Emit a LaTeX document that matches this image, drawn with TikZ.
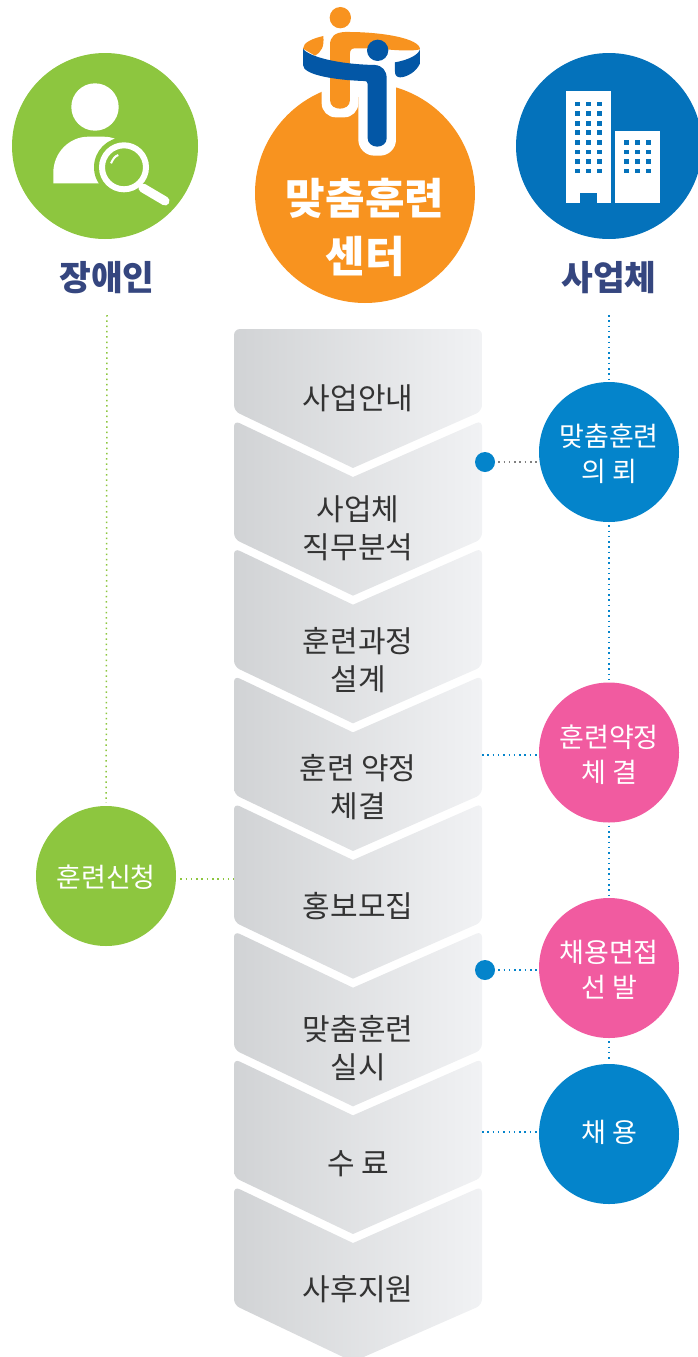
\documentclass[tikz,border=0pt]{standalone}
\usepackage{fontspec}
\setmainfont{Noto Sans CJK KR}
\usetikzlibrary{math}
\definecolor{seekergreen}{HTML}{8DC63F}
\definecolor{firmblue}{HTML}{0472BB}
\definecolor{roundblue}{HTML}{0484CB}
\definecolor{roundpink}{HTML}{F15BA0}
\definecolor{centerorange}{HTML}{F8931F}
\definecolor{logoblue}{HTML}{0357A6}
\definecolor{headnavy}{HTML}{35467F}
\definecolor{chevronleft}{HTML}{D1D3D5}
\definecolor{chevronright}{HTML}{F1F2F4}
\tikzset{
  bigcircle/.style={circle, inner sep=0pt, minimum size=186pt},
  roundnode/.style={circle, inner sep=0pt, minimum size=140pt},
  roundlabel/.style={text=white, align=center, font=\fontsize{27}{35}\selectfont},
  headlabel/.style={text=headnavy, font=\fontsize{34.5}{40}\selectfont\bfseries},
  stagelabel/.style={text=black!80, align=center, font=\fontsize{30}{38}\selectfont},
  chevronfill/.style={left color=chevronleft, right color=chevronright},
  bluedots/.style={draw=roundblue, line width=1.5pt, dash pattern=on 1.5pt off 3.8pt},
  greendots/.style={draw=seekergreen, line width=1.5pt, dash pattern=on 1.5pt off 3.8pt},
  greydots/.style={draw=black!50, line width=1.5pt, dash pattern=on 1.5pt off 3.8pt},
  smalldot/.style={circle, inner sep=0pt, minimum size=20pt, fill=roundblue},
}
\begin{document}
\begin{tikzpicture}[x=1pt, y=-1pt]
          \tikzmath{
            \xw=234;
            \xe=482;
            \xtip=353;
            \period=127.67;}
          \useasboundingbox (0,0) rectangle (698,1357);
          \clip (0,0) rectangle (698,1357);
          % stages
          \shade[chevronfill, rounded corners=6pt] (\xw,329) -- (\xe,329) -- (\xe,411) [sharp corners] -- (\xtip,468) [rounded corners=6pt] -- (\xw,411) -- cycle;
          \foreach \i in {0,...,6} {
            \tikzmath{
              \ytop=420.5+\i*\period;
              \ynotch=477+\i*\period;
              \ylow=539+\i*\period;
              \ytip=595.67+\i*\period;}
            \shade[chevronfill, rounded corners=6pt] (\xtip,\ynotch) -- (\xe,\ytop) -- (\xe,\ylow) [sharp corners] -- (\xtip,\ytip) [rounded corners=6pt] -- (\xw,\ylow) -- (\xw,\ytop) [sharp corners] -- cycle;
          }
          \node[stagelabel] (guide) at (358,398) {사업안내};
          \node[stagelabel] (analysis) at (358,528) {사업체\\직무분석};
          \node[stagelabel] (design) at (358,660) {훈련과정\\설계};
          \node[stagelabel] (signing) at (358,787) {훈련 약정\\체결};
          \node[stagelabel] (recruit) at (358,906) {홍보모집};
          \node[stagelabel] (training) at (358,1048) {맞춤훈련\\실시};
          \node[stagelabel] (finish) at (358,1164) {수 료};
          \node[stagelabel] (aftercare) at (358,1289) {사후지원};
          % people, centre, firm
          \node[bigcircle, fill=seekergreen] (seeker) at (105,146) {};
          \node[bigcircle, fill=firmblue] (firm) at (609,146) {};
          \node[circle, inner sep=0pt, minimum size=220pt, fill=centerorange] (center) at (365,193) {};
          \node[headlabel] (seekerlabel) at (107,278) {장애인};
          \node[headlabel] (firmlabel) at (609,278) {사업체};
          \node[text=white, align=center, font=\fontsize{43}{58}\selectfont\bfseries] (centerlabel) at (365,227.5) {맞춤훈련\\센터};
          % magnifier
          \fill[white] (95,107) circle (23.7);
          \fill[white] (53.3,183.3) -- (53.3,173) .. controls (53.3,152) and (70,136.7) .. (88,136.7) -- (103,136.7) .. controls (120,136.7) and (125,145) .. (125,160) -- (105,183.3) -- cycle;
          \fill[seekergreen] (124,167.3) circle (30);
          \draw[white, line width=6pt] (124,167.3) circle (22);
          \draw[white, line width=9pt, line cap=round] (143,188) -- (165,201);
          \draw[white, line width=2pt] (111,163.3) .. controls (113,159) and (115,156) .. (118.3,155);
          % buildings
          \fill[white] (566,91) rectangle (611.3,203.3);
          \fill[white] (615,130.7) rectangle (660.3,203.3);
          \fill[firmblue] (580,193.3) rectangle (597.3,203.3);
          \foreach \wx in {577.3,588.3,599.7}
            \foreach \wy in {104,113.6,123.2,132.7,142.3,152,161.7,171}
              \fill[firmblue] (\wx-2.7,\wy-2.3) rectangle (\wx+2.7,\wy+2.3);
          \foreach \wx in {626.3,637.3,648.3}
            \foreach \wy in {142.3,152,161.7,171}
              \fill[firmblue] (\wx-2.7,\wy-2.3) rectangle (\wx+2.7,\wy+2.3);
          % logo
          \begin{scope}[shift={(295,0)}, x=0.3333pt, y=-0.3333pt]
            \fill[white, rounded corners=14pt] (80,230) rectangle (190,352);
            \fill[white, rounded corners=16pt] (190,230) rectangle (303,467);
            \fill[white] (80,180) rectangle (303,290);
            \fill[centerorange] (136,53) circle (32);
            \fill[centerorange] (105,240) -- (105,300) .. controls (105,318) and (120,326) .. (135,326) .. controls (150,326) and (165,318) .. (165,300) -- (165,160) .. controls (165,150) and (170,145) .. (180,145) -- (240,145) .. controls (290,150) and (350,155) .. (375,148) .. controls (375,115) and (260,95) .. (150,96) .. controls (120,97) and (105,110) .. (105,135) -- cycle;
            \fill[centerorange] (85,108) .. controls (50,116) and (25,128) .. (24,146) -- (60,167) .. controls (80,155) and (88,140) .. (85,108) -- cycle;
            \fill[logoblue] (24,146) .. controls (40,170) and (130,193) .. (240,195) .. controls (262,197) and (275,212) .. (275,235) -- (275,415) .. controls (275,430) and (262,440) .. (247,440) .. controls (232,440) and (218,430) .. (218,415) -- (218,252) .. controls (218,246) and (215,243) .. (205,243) .. controls (120,240) and (24,225) .. (24,195) -- cycle;
            \fill[logoblue] (300,187) .. controls (340,180) and (370,165) .. (375,148) -- (375,190) .. controls (365,215) and (335,232) .. (315,232) .. controls (305,232) and (300,225) .. (300,215) -- cycle;
            \fill[logoblue] (248,151) circle (32);
          \end{scope}
          % process rounds
          \node[roundnode, fill=roundblue] (request) at (609,452) {};
          \node[roundnode, fill=roundpink] (contract) at (609,752.5) {};
          \node[roundnode, fill=roundpink] (interview) at (609,968) {};
          \node[roundnode, fill=roundblue] (hire) at (609,1134) {};
          \node[roundnode, fill=seekergreen] (apply) at (106,876) {};
          \node[roundlabel] (requestlabel) at (609,454) {맞춤훈련\\의 뢰};
          \node[roundlabel] (contractlabel) at (609,755) {훈련약정\\체 결};
          \node[roundlabel] (interviewlabel) at (609,970) {채용면접\\선 발};
          \node[roundlabel] (hirelabel) at (609,1132) {채 용};
          \node[roundlabel] (applylabel) at (106,877) {훈련신청};
          \node[smalldot] (requestdot) at (485,462) {};
          \node[smalldot] (interviewdot) at (485,970) {};
          \coordinate (seekerstart) at (107,315);
          \coordinate (firmstart) at (609,315);
          \coordinate (contractend) at (482,755);
          \coordinate (hireend) at (482,1132);
          \coordinate (applyend) at (234,879);
          % connectors
          \draw[greendots, shorten >=3pt] (seekerstart) -- (apply);
          \draw[greendots, shorten <=4pt] (apply.east |- applyend) -- (applyend);
          \draw[bluedots, shorten >=3pt] (firmstart) -- (request);
          \draw[bluedots, shorten <=3pt, shorten >=3pt] (request) -- (contract);
          \draw[bluedots, shorten <=3pt, shorten >=3pt] (contract) -- (interview);
          \draw[bluedots, shorten <=3pt, shorten >=3pt] (interview) -- (hire);
          \draw[greydots, shorten <=3pt] (requestdot) -- (request.west |- requestdot);
          \draw[bluedots] (contractend) -- (contract.west |- contractend);
          \draw[bluedots, shorten <=3pt] (interviewdot) -- (interview.west |- interviewdot);
          \draw[bluedots] (hireend) -- (hire.west |- hireend);
        \end{tikzpicture}
\end{document}
